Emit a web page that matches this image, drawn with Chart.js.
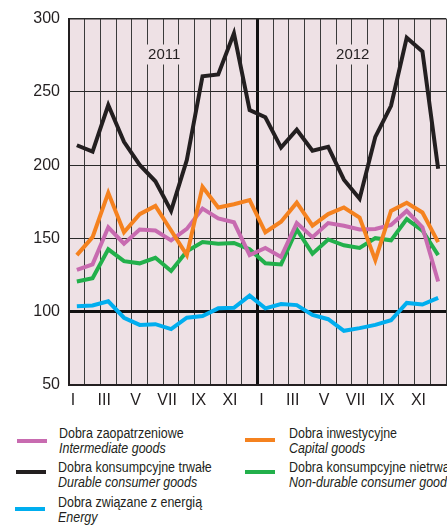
<!DOCTYPE html>
<html>
<head>
<meta charset="utf-8">
<script src="https://cdn.jsdelivr.net/npm/chart.js@4"></script>
<style>
  html, body { margin: 0; padding: 0; background: #ffffff; overflow: hidden; }
  body { width: 447px; height: 525px; position: relative; font-family: "Liberation Sans Narrow", "Arial Narrow", "Liberation Sans", sans-serif; color: #231f20; }
  #wrap { position: absolute; left: 0; top: 0; width: 447px; height: 410px; }
  .leg { position: absolute; font-size: 14px; line-height: 15px; white-space: nowrap; transform: scaleX(0.89); transform-origin: 0 0; }
  .leg .en { font-style: italic; }
  .sw { position: absolute; width: 30px; height: 4px; }
</style>
</head>
<body>
<div id="wrap"><canvas id="c" width="447" height="410"></canvas></div>

<div class="sw" style="left:17px; top:439px; background:#c86bb0"></div>
<div class="leg" style="left:59px; top:426px">Dobra zaopatrzeniowe<br><span class="en">Intermediate goods</span></div>
<div class="sw" style="left:16px; top:470px; background:#231f20"></div>
<div class="leg" style="left:58px; top:460px">Dobra konsumpcyjne trwałe<br><span class="en">Durable consumer goods</span></div>
<div class="sw" style="left:15px; top:507px; background:#00aeef"></div>
<div class="leg" style="left:58px; top:495px">Dobra związane z energią<br><span class="en">Energy</span></div>
<div class="sw" style="left:245px; top:438px; background:#f5821f"></div>
<div class="leg" style="left:289px; top:426px">Dobra inwestycyjne<br><span class="en">Capital goods</span></div>
<div class="sw" style="left:245px; top:470px; background:#22b04b"></div>
<div class="leg" style="left:289px; top:460px">Dobra konsumpcyjne nietrwałe<br><span class="en">Non-durable consumer goods</span></div>

<script>
const months = ['I','II','III','IV','V','VI','VII','VIII','IX','X','XI','XII',
                'I','II','III','IV','V','VI','VII','VIII','IX','X','XI','XII'];
const years = ['2011', '2012'];
const yTicks = [50, 100, 150, 200, 250, 300];

const intermediate = [128.5,132.3,157.6,146.4,156.1,155.4,148.7,156.5,170.4,163.7,161,138.6,
                      143.5,137.4,160.5,150.9,160.5,158.7,156.1,156.5,159.2,168.8,157.6,120.6];
const durable      = [213.6,209.2,241,215.9,200.2,189,168.8,203.5,260.7,261.9,289.9,237.6,
                      232.7,212,224.2,209.9,212.5,190.1,177.1,219.3,240.5,287,277.5,197.5];
const energy       = [103.8,104.3,107.1,95.9,91,91.5,88.1,95.9,97.1,102.3,102.7,111,
                      102.3,105.3,104.5,97.8,94.9,87,88.8,91,94.2,106,104.9,109.4];
const capital      = [138.6,150.9,181.1,154.2,166.6,172.2,155.4,138.6,185.2,171.1,173.3,176.2,
                      154.2,161.4,174.4,158.7,166.6,171.1,164.3,135.2,168.8,174.4,167.7,147.5];
const nondurable   = [120.6,122.8,142.6,134.5,133,136.8,127.8,141.2,147.5,146.4,146.9,142.6,
                      133,132.3,156.1,139.6,149.3,145.3,143.5,150.2,148.7,163.2,155.4,138.6];

const FONT = "'Liberation Sans Narrow', 'Arial Narrow', 'Liberation Sans', sans-serif";

const bgPlugin = {
  id: 'bg',
  beforeDraw(chart) {
    const a = chart.chartArea, ctx = chart.ctx;
    ctx.save();
    ctx.fillStyle = '#eee1e5';
    ctx.fillRect(a.left, a.top, a.right - a.left, a.bottom - a.top);
    ctx.restore();
  }
};

const yearPlugin = {
  id: 'years',
  beforeDatasetsDraw(chart) {
    const x = chart.scales.x, y = chart.scales.y, ctx = chart.ctx;
    ctx.save();
    ctx.font = '15px ' + FONT;
    ctx.textAlign = 'center';
    ctx.textBaseline = 'middle';
    years.forEach((yr, k) => {
      const i = k * 12 + 5;
      const cx = (x.getPixelForValue(i) + x.getPixelForValue(i + 1)) / 2 + 1;
      const cy = y.getPixelForValue(275.5);
      const w = ctx.measureText(yr).width + 6;
      ctx.fillStyle = '#eee1e5';
      ctx.fillRect(cx - w / 2, cy - 10, w, 20);
      ctx.fillStyle = '#231f20';
      ctx.fillText(yr, cx, cy);
    });
    ctx.restore();
  }
};

const mk = (label, data, color, order) => ({
  label, data, borderColor: color, backgroundColor: color,
  borderWidth: 4, pointRadius: 0, tension: 0, fill: false,
  borderJoinStyle: 'miter', order
});

new Chart(document.getElementById('c'), {
  type: 'line',
  data: {
    labels: months,
    datasets: [
      mk('Dobra konsumpcyjne trwałe', durable, '#231f20', 0),
      mk('Dobra inwestycyjne', capital, '#f5821f', 1),
      mk('Dobra zaopatrzeniowe', intermediate, '#c86bb0', 2),
      mk('Dobra konsumpcyjne nietrwałe', nondurable, '#22b04b', 3),
      mk('Dobra związane z energią', energy, '#00aeef', 4)
    ]
  },
  options: {
    responsive: false,
    animation: false,
    events: [],
    layout: { padding: { top: 13, right: 1, left: 0, bottom: 0 } },
    plugins: { legend: { display: false }, tooltip: { enabled: false } },
    scales: {
      x: {
        type: 'category',
        offset: true,
        afterFit(s) { s.height = 25; },
        grid: {
          offset: true,
          drawTicks: false,
          color: (c) => (c.index === 12 ? '#111' : '#3a3a3a'),
          lineWidth: (c) => (c.index === 12 ? 3 : 1)
        },
        border: { display: true, color: '#231f20', width: 2 },
        ticks: {
          autoSkip: false,
          maxRotation: 0,
          padding: 6,
          labelOffset: -4,
          color: '#231f20',
          font: { size: 16, family: FONT },
          callback: (v, i) => (i % 2 === 0 ? months[i] : '')
        }
      },
      y: {
        min: 50, max: 300,
        afterFit(s) { s.width = 69; },
        afterBuildTicks(s) { s.ticks = yTicks.map(v => ({ value: v })); },
        grid: {
          drawTicks: false,
          color: (c) => (c.tick && c.tick.value === 100 ? '#111' : '#2a2a2a'),
          lineWidth: (c) => (c.tick && c.tick.value === 100 ? 3 : (c.tick && c.tick.value === 300 ? 1.5 : 1))
        },
        border: { display: true, color: '#231f20', width: 2 },
        ticks: {
          padding: 9,
          color: '#231f20',
          font: { size: 16, family: FONT }
        }
      }
    }
  },
  plugins: [bgPlugin, yearPlugin]
});
</script>
</body>
</html>
